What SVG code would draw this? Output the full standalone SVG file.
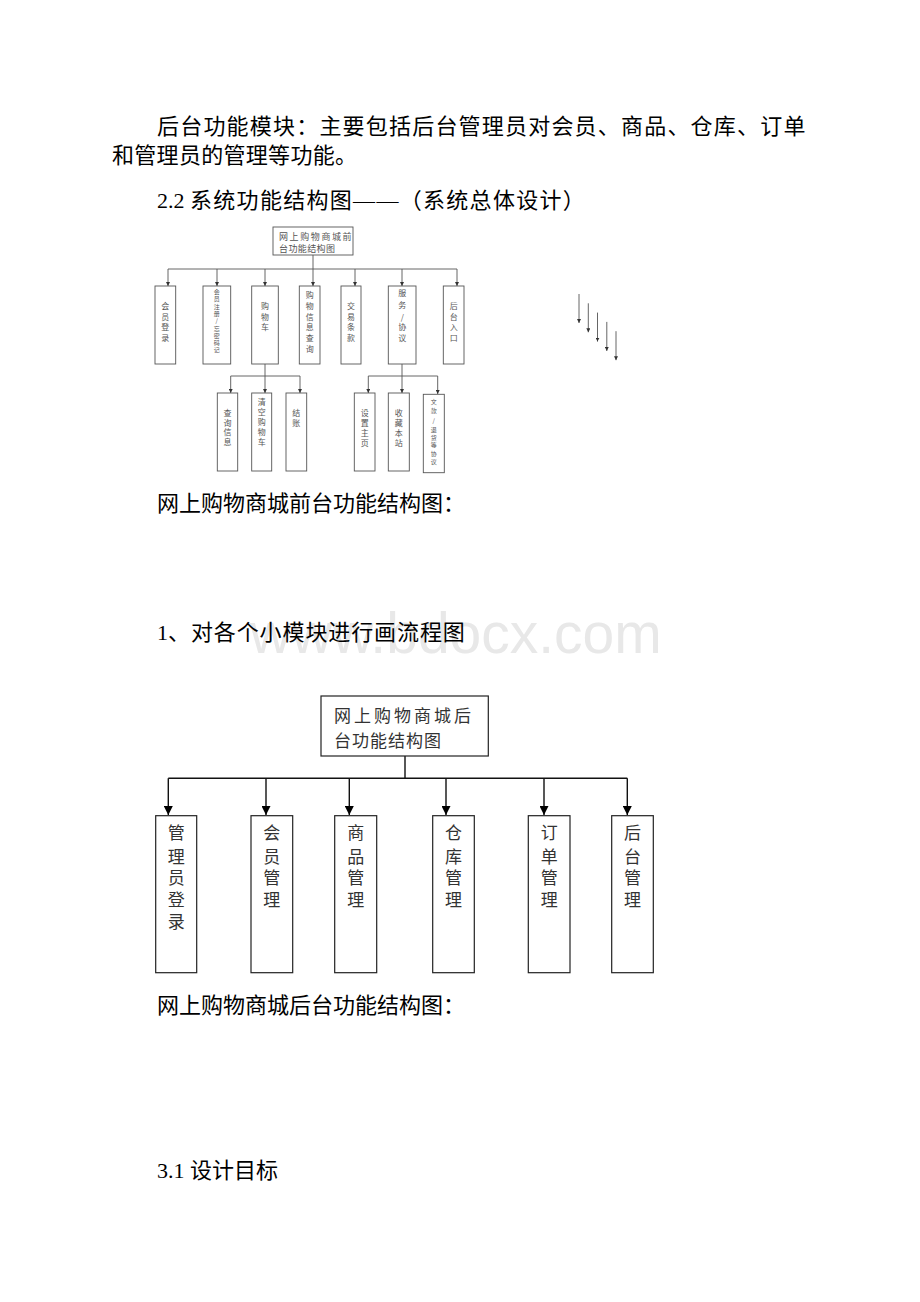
<svg xmlns="http://www.w3.org/2000/svg" width="920" height="1302" viewBox="0 0 920 1302">
<style>
.p{font-family:"Liberation Serif","Noto Sans CJK SC",serif;font-size:22px;fill:#000}
.c{font-family:"Noto Sans CJK SC",sans-serif}
.wm{font-family:"Liberation Sans",Arial,sans-serif;font-size:57px;fill:#e8e8e8}
.sb{fill:#fff;stroke:#555;stroke-width:0.9}
.st{font-family:"Noto Sans CJK SC",sans-serif;font-size:8px;fill:#555;text-anchor:middle}
.sx{font-family:"Noto Sans CJK SC",sans-serif;font-size:6px;fill:#555;text-anchor:middle}
.sr{font-family:"Noto Sans CJK SC",sans-serif;font-size:9px;fill:#555}
.sl{fill:none;stroke:#555;stroke-width:0.9}
.bb{fill:#fff;stroke:#222;stroke-width:1.2}
.bt{font-family:"Noto Sans CJK SC",sans-serif;font-size:17px;fill:#333;text-anchor:middle}
.br{font-family:"Noto Sans CJK SC",sans-serif;font-size:17px;fill:#333}
.bl{fill:none;stroke:#111;stroke-width:1.4}
</style>
<defs>
<marker id="as" viewBox="0 0 10 10" refX="10" refY="5" markerWidth="4" markerHeight="4" markerUnits="userSpaceOnUse" orient="auto"><path d="M0,0L10,5L0,10z" fill="#333"/></marker>
<marker id="ab" viewBox="0 0 10 10" refX="10" refY="5" markerWidth="10" markerHeight="9" markerUnits="userSpaceOnUse" orient="auto"><path d="M0,0L10,5L0,10z" fill="#000"/></marker>
</defs>
<rect width="920" height="1302" fill="#fff"/>

<g id="text">
<text class="p" x="157" y="134" letter-spacing="1.2">后台功能模块<tspan class="c">：</tspan>主要包括后台管理员对会员、商品、仓库、订单</text>
<text class="p" x="112" y="163" letter-spacing="0.3">和管理员的管理等功能。</text>
<text class="p" x="157" y="208">2.2 <tspan letter-spacing="1.3">系统功能结构图——（系统总体设计）</tspan></text>
<text class="p" x="157" y="511">网上购物商城前台功能结构图<tspan class="c">：</tspan></text>
<text class="wm" x="250" y="653">www.bdocx.com</text>
<text class="p" x="157" y="640">1<tspan letter-spacing="0.9">、对各个小模块进行画流程图</tspan></text>
<text class="p" x="157" y="1013">网上购物商城后台功能结构图<tspan class="c">：</tspan></text>
<text class="p" x="157" y="1178">3.1 设计目标</text>
</g>

<g id="connectors">
<path class="sl" d="M313,255V269M168,269H457M265,364V376M230.7,376H300M402,364V376M368.3,376H437.7"/>
<line class="sl" x1="168" y1="269" x2="168" y2="286" marker-end="url(#as)"/>
<line class="sl" x1="217" y1="269" x2="217" y2="286" marker-end="url(#as)"/>
<line class="sl" x1="265" y1="269" x2="265" y2="286" marker-end="url(#as)"/>
<line class="sl" x1="313" y1="269" x2="313" y2="286" marker-end="url(#as)"/>
<line class="sl" x1="355" y1="269" x2="355" y2="286" marker-end="url(#as)"/>
<line class="sl" x1="402" y1="269" x2="402" y2="286" marker-end="url(#as)"/>
<line class="sl" x1="457" y1="269" x2="457" y2="286" marker-end="url(#as)"/>
<line class="sl" x1="230.7" y1="376" x2="230.7" y2="393" marker-end="url(#as)"/>
<line class="sl" x1="265" y1="376" x2="265" y2="393" marker-end="url(#as)"/>
<line class="sl" x1="300" y1="376" x2="300" y2="393" marker-end="url(#as)"/>
<line class="sl" x1="368.3" y1="376" x2="368.3" y2="393" marker-end="url(#as)"/>
<line class="sl" x1="402" y1="376" x2="402" y2="393" marker-end="url(#as)"/>
<line class="sl" x1="437.7" y1="376" x2="437.7" y2="394" marker-end="url(#as)"/>
<line class="sl" x1="579" y1="294" x2="579" y2="323" marker-end="url(#as)"/>
<line class="sl" x1="588.3" y1="303.3" x2="588.3" y2="332.3" marker-end="url(#as)"/>
<line class="sl" x1="597.5" y1="312.6" x2="597.5" y2="341.6" marker-end="url(#as)"/>
<line class="sl" x1="606.8" y1="321.9" x2="606.8" y2="350.9" marker-end="url(#as)"/>
<line class="sl" x1="616" y1="331.2" x2="616" y2="360.2" marker-end="url(#as)"/>

<path class="bl" d="M405,756V778.3M168.3,778.3H627.3"/>
<line class="bl" x1="168.3" y1="778.3" x2="168.3" y2="815" marker-end="url(#ab)"/>
<line class="bl" x1="266" y1="778.3" x2="266" y2="815" marker-end="url(#ab)"/>
<line class="bl" x1="349.3" y1="778.3" x2="349.3" y2="815" marker-end="url(#ab)"/>
<line class="bl" x1="446" y1="778.3" x2="446" y2="815" marker-end="url(#ab)"/>
<line class="bl" x1="544" y1="778.3" x2="544" y2="815" marker-end="url(#ab)"/>
<line class="bl" x1="627.3" y1="778.3" x2="627.3" y2="815" marker-end="url(#ab)"/>
</g>

<g id="front-root"><rect class="sb" x="273" y="227" width="80" height="28"/>
<text class="sr" x="279" y="240" letter-spacing="1.6">网上购物商城前</text>
<text class="sr" x="279" y="252" letter-spacing="0.4">台功能结构图</text></g>

<g id="f1"><rect class="sb" x="155" y="286" width="20.7" height="78"/>
<text class="st"><tspan x="165.3" y="309">会</tspan><tspan x="165.3" y="319.7">员</tspan><tspan x="165.3" y="330.3">登</tspan><tspan x="165.3" y="341.3">录</tspan></text></g>
<g id="f2"><rect class="sb" x="203" y="286" width="27.7" height="78"/>
<text class="sx"><tspan x="216.8" y="294">会</tspan><tspan x="216.8" y="301.3">员</tspan><tspan x="216.8" y="308.6">注</tspan><tspan x="216.8" y="315.9">册</tspan><tspan x="216.8" y="323.2">/</tspan><tspan x="216.8" y="330.5">忘</tspan><tspan x="216.8" y="337.8">密</tspan><tspan x="216.8" y="345.1">码</tspan><tspan x="216.8" y="352.4">记</tspan></text></g>
<g id="f3"><rect class="sb" x="251.7" y="286" width="26.6" height="78"/>
<text class="st"><tspan x="265" y="309">购</tspan><tspan x="265" y="319.7">物</tspan><tspan x="265" y="330.3">车</tspan></text></g>
<g id="f4"><rect class="sb" x="299.3" y="286" width="20.7" height="78"/>
<text class="st"><tspan x="309.7" y="298">购</tspan><tspan x="309.7" y="309">物</tspan><tspan x="309.7" y="319.7">信</tspan><tspan x="309.7" y="330.3">息</tspan><tspan x="309.7" y="341.3">查</tspan><tspan x="309.7" y="352">询</tspan></text></g>
<g id="f5"><rect class="sb" x="341" y="286" width="20" height="78"/>
<text class="st"><tspan x="351" y="309">交</tspan><tspan x="351" y="319.7">易</tspan><tspan x="351" y="330.3">条</tspan><tspan x="351" y="341.3">款</tspan></text></g>
<g id="f6"><rect class="sb" x="388.3" y="286" width="27.7" height="78"/>
<text class="st"><tspan x="402.2" y="295.7">服</tspan><tspan x="402.2" y="308">务</tspan><tspan x="402.2" y="319.7">/</tspan><tspan x="402.2" y="330.3">协</tspan><tspan x="402.2" y="341.3">议</tspan></text></g>
<g id="f7"><rect class="sb" x="443.3" y="286" width="20.7" height="78"/>
<text class="st"><tspan x="453.7" y="309">后</tspan><tspan x="453.7" y="319.7">台</tspan><tspan x="453.7" y="330.3">入</tspan><tspan x="453.7" y="341.3">口</tspan></text></g>

<g id="f3a"><rect class="sb" x="217.3" y="393" width="20.4" height="78"/>
<text class="st"><tspan x="227.5" y="416.3">查</tspan><tspan x="227.5" y="425.5">询</tspan><tspan x="227.5" y="434.7">信</tspan><tspan x="227.5" y="444.5">息</tspan></text></g>
<g id="f3b"><rect class="sb" x="251.7" y="393" width="20" height="78"/>
<text class="st"><tspan x="261.7" y="404.7">清</tspan><tspan x="261.7" y="414.7">空</tspan><tspan x="261.7" y="425.3">购</tspan><tspan x="261.7" y="434.9">物</tspan><tspan x="261.7" y="444.7">车</tspan></text></g>
<g id="f3c"><rect class="sb" x="286" y="393" width="20.7" height="78"/>
<text class="st"><tspan x="296.3" y="415.7">结</tspan><tspan x="296.3" y="425.7">账</tspan></text></g>
<g id="f6a"><rect class="sb" x="354.3" y="393" width="20.7" height="78"/>
<text class="st"><tspan x="364.7" y="415.7">设</tspan><tspan x="364.7" y="425.7">置</tspan><tspan x="364.7" y="436.3">主</tspan><tspan x="364.7" y="446.3">页</tspan></text></g>
<g id="f6b"><rect class="sb" x="388.3" y="393" width="21" height="78"/>
<text class="st"><tspan x="398.8" y="415.7">收</tspan><tspan x="398.8" y="425.7">藏</tspan><tspan x="398.8" y="436.3">本</tspan><tspan x="398.8" y="446.3">站</tspan></text></g>
<g id="f6c"><rect class="sb" x="423.3" y="394.3" width="21" height="78.4"/>
<text class="sx"><tspan x="433.8" y="404.4">文</tspan><tspan x="433.8" y="412.7">款</tspan><tspan x="433.8" y="423.4">/</tspan><tspan x="433.8" y="432.4">退</tspan><tspan x="433.8" y="439.7">货</tspan><tspan x="433.8" y="447">等</tspan><tspan x="433.8" y="455.7">协</tspan><tspan x="433.8" y="463.7">议</tspan></text></g>

<g id="back-root"><rect class="bb" x="321" y="696" width="167.3" height="60"/>
<text class="br" x="334" y="722" letter-spacing="3">网上购物商城后</text>
<text class="br" x="334" y="747" letter-spacing="1">台功能结构图</text></g>

<g id="b1"><rect class="bb" x="155.7" y="815.7" width="41" height="157"/>
<text class="bt"><tspan x="176.2" y="839.3">管</tspan><tspan x="176.2" y="862.7">理</tspan><tspan x="176.2" y="884.3">员</tspan><tspan x="176.2" y="906">登</tspan><tspan x="176.2" y="927.7">录</tspan></text></g>
<g id="b2"><rect class="bb" x="251" y="815.7" width="41.7" height="157"/>
<text class="bt"><tspan x="271.8" y="839.3">会</tspan><tspan x="271.8" y="862.7">员</tspan><tspan x="271.8" y="884.3">管</tspan><tspan x="271.8" y="906">理</tspan></text></g>
<g id="b3"><rect class="bb" x="334.7" y="815.7" width="42" height="157"/>
<text class="bt"><tspan x="355.7" y="839.3">商</tspan><tspan x="355.7" y="862.7">品</tspan><tspan x="355.7" y="884.3">管</tspan><tspan x="355.7" y="906">理</tspan></text></g>
<g id="b4"><rect class="bb" x="432.7" y="815.7" width="41.6" height="157"/>
<text class="bt"><tspan x="453.5" y="839.3">仓</tspan><tspan x="453.5" y="862.7">库</tspan><tspan x="453.5" y="884.3">管</tspan><tspan x="453.5" y="906">理</tspan></text></g>
<g id="b5"><rect class="bb" x="528.3" y="815.7" width="41.7" height="157"/>
<text class="bt"><tspan x="549.2" y="839.3">订</tspan><tspan x="549.2" y="862.7">单</tspan><tspan x="549.2" y="884.3">管</tspan><tspan x="549.2" y="906">理</tspan></text></g>
<g id="b6"><rect class="bb" x="611.7" y="815.7" width="41.6" height="157"/>
<text class="bt"><tspan x="632.5" y="839.3">后</tspan><tspan x="632.5" y="862.7">台</tspan><tspan x="632.5" y="884.3">管</tspan><tspan x="632.5" y="906">理</tspan></text></g>
</svg>
